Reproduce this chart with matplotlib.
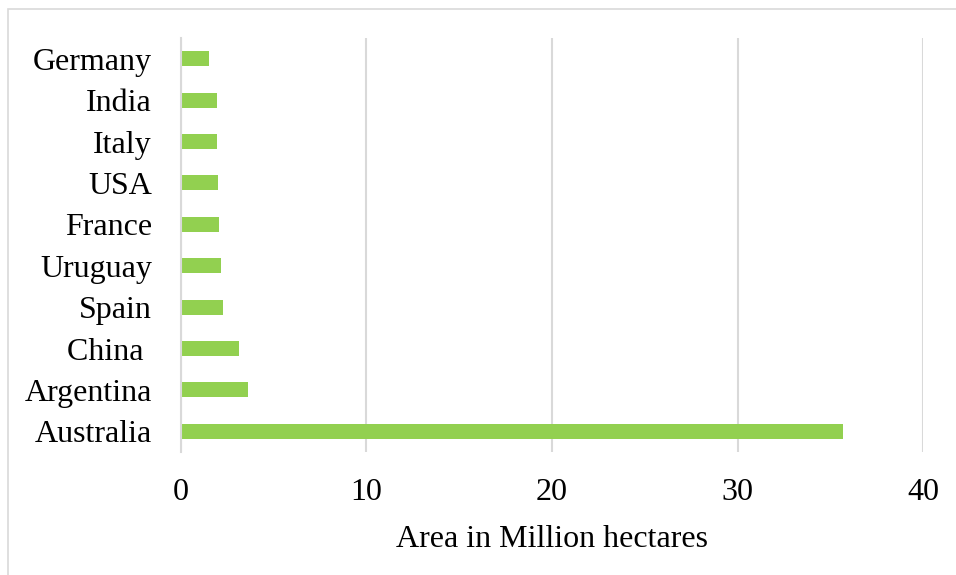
import matplotlib.pyplot as plt
from matplotlib.patches import Rectangle

countries = ['Australia', 'Argentina', 'China ', 'Spain', 'Uruguay',
             'France', 'USA', 'Italy', 'India', 'Germany']
area = [35.67, 3.61, 3.11, 2.25, 2.14, 2.03, 2.0, 1.94, 1.92, 1.49]
x_ticks = [0, 10, 20, 30, 40]


def main():
    plt.rcParams['font.family'] = ['Liberation Serif', 'DejaVu Serif']

    fig = plt.figure(figsize=(9.56, 5.75), dpi=100)
    ax = fig.add_axes([0.1893, 0.2139, 0.7762, 0.7200])

    ax.barh(range(len(countries)), area, height=0.36, color='#92D050')
    ax.set_ylim(-0.5, len(countries) - 0.5)
    ax.set_xlim(0, 40)
    ax.set_xticks(x_ticks)
    ax.set_yticks(range(len(countries)))
    ax.set_yticklabels(countries)

    ax.grid(axis='x', color='#d9d9d9', linewidth=1.5)
    ax.set_axisbelow(True)
    for s in ['top', 'right', 'bottom']:
        ax.spines[s].set_visible(False)
    ax.spines['left'].set_color('#d9d9d9')
    ax.spines['left'].set_linewidth(1.5)
    ax.tick_params(length=0, labelsize=23, colors='black')
    ax.tick_params(axis='x', pad=19)
    ax.tick_params(axis='y', pad=21)
    ax.set_xlabel('Area in Million hectares', fontsize=23, labelpad=13)

    fig.patches.append(Rectangle((8 / 956, -0.05), 1.1, 1 - 9 / 575 + 0.05,
                                 transform=fig.transFigure, fill=False,
                                 edgecolor='#d9d9d9', linewidth=1.2))

    fig.savefig('out.png', dpi=100)


if __name__ == '__main__':
    main()
